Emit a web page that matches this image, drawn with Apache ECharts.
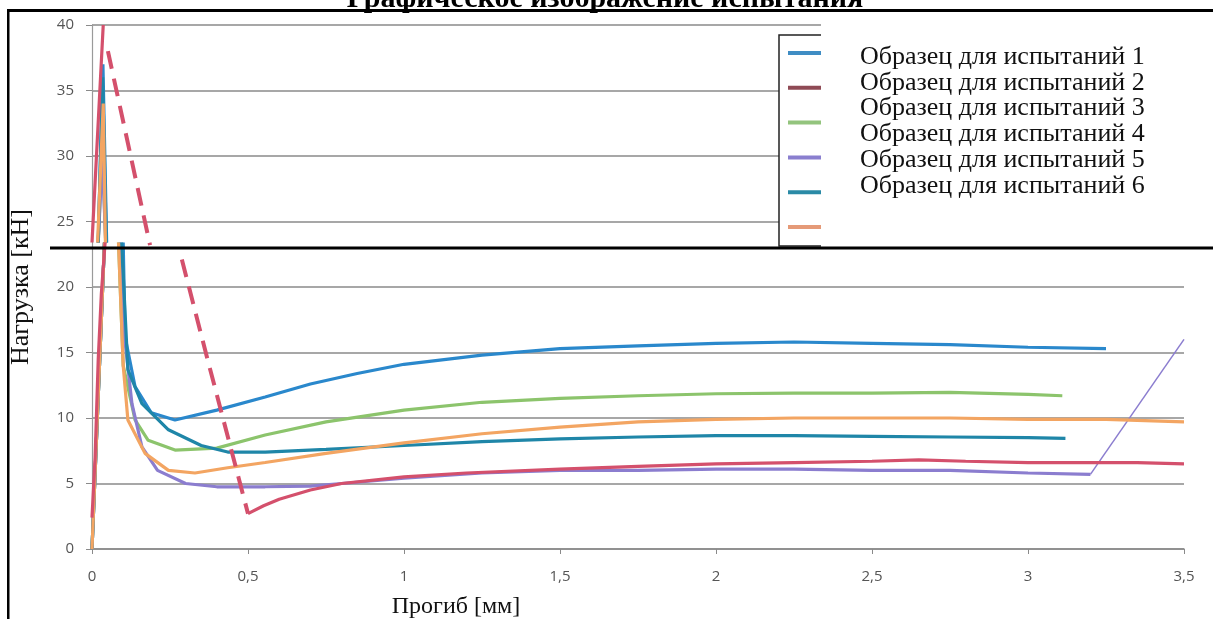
<!DOCTYPE html>
<html>
<head>
<meta charset="utf-8">
<title>Графическое изображение испытания</title>
<script src="https://cdn.jsdelivr.net/npm/echarts@6/dist/echarts.min.js"></script>
<style>
  html, body { margin: 0; padding: 0; background: #fff; }
  #main { width: 1213px; height: 619px; }
</style>
</head>
<body>
<div id="main"></div>
<script>
// подписи
var seriesNames = [
  'Образец для испытаний 1',
  'Образец для испытаний 2',
  'Образец для испытаний 3',
  'Образец для испытаний 4',
  'Образец для испытаний 5',
  'Образец для испытаний 6'
]
var xTickLabels = ['0', '0,5', '1', '1,5', '2', '2,5', '3', '3,5']
var yTickLabels = ['0', '5', '10', '15', '20', '25', '30', '35', '40']

// прогиб [мм], нагрузка [кН]; ['-','-'] = разрыв (склейка скана)
var s1 = [[0, 0], [0.04, 23.4], ['-', '-'],
  [0.02, 23.4], [0.035, 37], [0.047, 23.4], ['-', '-'],
  [0.1, 23.4], [0.106, 16.2], [0.138, 12.4], [0.19, 10.4], [0.266, 9.85], [0.4, 10.6], [0.555, 11.6],
  [0.7, 12.6], [0.85, 13.4], [1.0, 14.1], [1.25, 14.8], [1.5, 15.3], [1.75, 15.5], [2.0, 15.7],
  [2.25, 15.8], [2.5, 15.7], [2.75, 15.6], [3.0, 15.4], [3.25, 15.3]]
var s2 = [[0, 2.4], [0.01, 7], [0.02, 14.5], [0.03, 19.5], [0.042, 23.4], ['-', '-'],
  [0.0, 23.4], [0.036, 40], ['-', '-'],
  [0.5, 2.7], [0.55, 3.3], [0.6, 3.8], [0.7, 4.5], [0.8, 5.0], [1.0, 5.5], [1.2, 5.8], [1.5, 6.1],
  [1.75, 6.3], [2.0, 6.5], [2.25, 6.6], [2.5, 6.7], [2.65, 6.8], [2.8, 6.7], [3.0, 6.6], [3.2, 6.6],
  [3.35, 6.6], [3.5, 6.5]]
var s2Dashed = [[0.051, 38], [0.186, 23.2], ['-', '-'], [0.288, 22.1], [0.37, 14.5], [0.5, 2.7]]
var s3 = [[0, 0], [0.04, 23.4], ['-', '-'],
  [0.02, 23.4], [0.033, 31], [0.044, 23.4], ['-', '-'],
  [0.085, 23.4], [0.1, 14], [0.138, 9.85], [0.18, 8.3], [0.266, 7.55], [0.4, 7.7], [0.555, 8.7],
  [0.75, 9.7], [1.0, 10.6], [1.25, 11.2], [1.5, 11.5], [1.75, 11.7], [2.0, 11.85], [2.25, 11.9],
  [2.5, 11.9], [2.75, 11.95], [3.0, 11.8], [3.11, 11.7]]
var s4 = [[0, 0], [0.04, 23.4], ['-', '-'],
  [0.02, 23.4], [0.033, 30], [0.044, 23.4], ['-', '-'],
  [0.09, 23.4], [0.105, 16], [0.128, 11.1], [0.16, 7.8], [0.21, 6.0], [0.3, 5.0], [0.4, 4.75],
  [0.555, 4.75], [0.7, 4.8], [0.8, 5.0], [1.0, 5.4], [1.25, 5.8], [1.5, 6.0], [1.75, 6.0],
  [2.0, 6.1], [2.25, 6.1], [2.5, 6.0], [2.75, 6.0], [3.0, 5.8], [3.2, 5.7]]
var s4Tail = [[3.2, 5.7], [3.5, 16.0]]
var s5 = [[0, 0], [0.04, 23.4], ['-', '-'],
  [0.02, 23.4], [0.034, 36], [0.046, 23.4], ['-', '-'],
  [0.095, 23.4], [0.115, 13.7], [0.16, 11.1], [0.245, 9.1], [0.35, 7.9], [0.435, 7.4], [0.555, 7.4],
  [0.75, 7.6], [1.0, 7.9], [1.25, 8.2], [1.5, 8.4], [1.75, 8.55], [2.0, 8.65], [2.25, 8.65],
  [2.5, 8.6], [2.75, 8.55], [3.0, 8.5], [3.12, 8.45]]
var s6 = [[0, 0], [0.04, 23.4], ['-', '-'],
  [0.018, 23.4], [0.036, 34], [0.043, 23.4], ['-', '-'],
  [0.085, 23.4], [0.1, 14], [0.115, 9.85], [0.17, 7.3], [0.245, 6.0], [0.33, 5.8], [0.435, 6.2],
  [0.555, 6.6], [0.75, 7.3], [1.0, 8.1], [1.25, 8.8], [1.5, 9.3], [1.75, 9.7], [2.0, 9.9],
  [2.25, 10.0], [2.5, 10.0], [2.75, 10.0], [3.0, 9.9], [3.25, 9.9], [3.5, 9.7]]

var lineColors = ['#2a88cc', '#d4506c', '#8cc46c', '#8b7dcf', '#1f86a8', '#f3a562']
var legendColors = ['#3f8dc4', '#8f4a55', '#93c47d', '#8a7fcf', '#2a8aa6', '#e59a78']

var serif = '"Liberation Serif", "DejaVu Serif", serif'

function line(name, data, color, width, z, dashed) {
  return {
    name: name,
    type: 'line',
    data: data,
    showSymbol: false,
    symbol: 'none',
    z: z,
    connectNulls: false,
    lineStyle: { color: color, width: width, type: dashed ? [18, 10] : 'solid' },
    animation: false
  }
}

var legendGraphics = [
  // белая заплатка поверх правой части
  { type: 'rect', z: 100, shape: { x: 821, y: 13, width: 400, height: 234 }, style: { fill: '#fff' } },
  { type: 'rect', z: 99, shape: { x: 779, y: 35, width: 80, height: 211 },
    style: { fill: '#fff', stroke: '#222', lineWidth: 1.5 } }
]
seriesNames.forEach(function (n, i) {
  legendGraphics.push({ type: 'line', z: 101, shape: { x1: 788, y1: 53 + i * 34.8, x2: 821, y2: 53 + i * 34.8 },
    style: { stroke: legendColors[i], lineWidth: 4 } })
  legendGraphics.push({ type: 'text', z: 102, x: 860, y: 57 + i * 25.8,
    style: { text: n, font: '26px ' + serif, fill: '#111', textVerticalAlign: 'middle' } })
})

var option = {
  backgroundColor: '#fff',
  animation: false,
  grid: { left: 92, right: 29, top: 25, bottom: 70 },
  xAxis: {
    type: 'value', min: 0, max: 3.5, interval: 0.5,
    axisLine: { show: true, lineStyle: { color: '#8a8a8a', width: 1.5 } },
    axisTick: { show: true, length: 5, lineStyle: { color: '#8a8a8a' } },
    axisLabel: {
      margin: 20, color: '#555', fontFamily: '"Open Sans", sans-serif', fontSize: 15,
      formatter: function (v) { return xTickLabels[Math.round(v / 0.5)] }
    },
    splitLine: { show: false }
  },
  yAxis: {
    type: 'value', min: 0, max: 40, interval: 5,
    name: 'Нагрузка [кН]', nameLocation: 'middle', nameGap: 58,
    nameTextStyle: { fontFamily: serif, fontSize: 26, color: '#111' },
    axisLine: { show: true, lineStyle: { color: '#9a9a9a', width: 1.2 } },
    axisTick: { show: true, length: 6, lineStyle: { color: '#8a8a8a' } },
    axisLabel: {
      margin: 18, color: '#555', fontFamily: '"Open Sans", sans-serif', fontSize: 15,
      formatter: function (v) { return yTickLabels[Math.round(v / 5)] }
    },
    splitLine: { show: true, lineStyle: { color: '#8a8a8a', width: 1.6 } }
  },
  series: [
    line(seriesNames[0], s1, lineColors[0], 3.2, 2),
    line(seriesNames[2], s3, lineColors[2], 3.2, 3),
    line(seriesNames[3], s4, lineColors[3], 3.2, 4),
    line(seriesNames[3], s4Tail, lineColors[3], 1.5, 4),
    line(seriesNames[4], s5, lineColors[4], 3.2, 5),
    line(seriesNames[5], s6, lineColors[5], 3.2, 6),
    line(seriesNames[1], s2, lineColors[1], 3.2, 7),
    line(seriesNames[1], s2Dashed, lineColors[1], 4, 7, true)
  ],
  graphic: legendGraphics.concat([
    { type: 'text', z: 102, x: 605, y: 14,
      style: { text: 'Графическое изображение испытания', font: 'bold 30px ' + serif, fill: '#000',
        textAlign: 'center', textVerticalAlign: 'bottom' } },
    { type: 'text', z: 102, x: 456, y: 607,
      style: { text: 'Прогиб [мм]', font: '24px ' + serif, fill: '#111',
        textAlign: 'center', textVerticalAlign: 'middle' } },
    // рамка скана
    { type: 'rect', z: 103, shape: { x: 7, y: 9, width: 1206, height: 3 }, style: { fill: '#000' } },
    { type: 'rect', z: 103, shape: { x: 7, y: 9, width: 2.5, height: 620 }, style: { fill: '#000' } },
    { type: 'rect', z: 103, shape: { x: 50, y: 246.5, width: 1163, height: 3 }, style: { fill: '#000' } }
  ])
}

var chart = echarts.init(document.getElementById('main'))
chart.setOption(option)
</script>
</body>
</html>
